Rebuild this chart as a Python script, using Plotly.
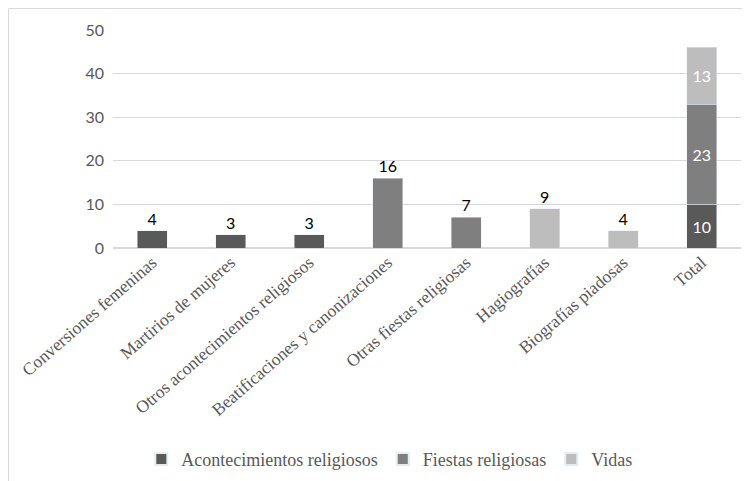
import plotly.graph_objects as go

categories = ["Conversiones femeninas", "Martirios de mujeres", "Otros acontecimientos religiosos",
              "Beatificaciones y canonizaciones", "Otras fiestas religiosas", "Hagiografías",
              "Biografías piadosas", "Total"]
series_names = ["Acontecimientos religiosos", "Fiestas religiosas", "Vidas"]
acontecimientos = [4, 3, 3, None, None, None, None, 10]
fiestas = [None, None, None, 16, 7, None, None, 23]
vidas = [None, None, None, None, None, 9, 4, 13]
y_ticks = [0, 10, 20, 30, 40, 50]

colors = ["#595959", "#7f7f7f", "#bdbdbd"]

fig = go.Figure()
for name, vals, col in zip(series_names, [acontecimientos, fiestas, vidas], colors):
    pos = ["inside" if c == "Total" else "outside" for c in categories]
    fig.add_trace(go.Bar(
        x=categories, y=vals, name=name, marker_color=col,
        text=[("" if v is None else str(v)) for v in vals],
        textposition=pos, insidetextanchor="middle",
        insidetextfont=dict(color="white", size=16, family="Lato"),
        outsidetextfont=dict(color="black", size=16, family="Lato"),
        cliponaxis=False,
    ))

fig.update_layout(
    barmode="stack", bargap=0.62,
    width=756, height=481,
    margin=dict(l=105, r=23, t=22, b=241, autoexpand=False),
    paper_bgcolor="white", plot_bgcolor="white",
    legend=dict(orientation="h", x=0.44, xanchor="center", yref="container", y=0.062, yanchor="middle",
                font=dict(family="Liberation Serif", size=18, color="#595959"),
                itemsizing="constant", traceorder="normal"),
)
fig.update_xaxes(tickangle=-41, tickfont=dict(family="Liberation Serif", size=17.5, color="#595959"),
                 showline=False, ticks="", automargin=False)
fig.update_yaxes(range=[0, 50], tickvals=y_ticks, showgrid=True, gridcolor="#d9d9d9", gridwidth=1,
                 zeroline=True, zerolinecolor="#d9d9d9", automargin=False,
                 tickfont=dict(family="Lato", size=16, color="#595959"), ticklabelstandoff=8)

# outer chart frame (top and left edges)
fig.add_shape(type="line", xref="paper", yref="paper", x0=-104/628, x1=1 + 1/628, y0=1 + 21.5/218, y1=1 + 21.5/218,
              line=dict(color="#d9d9d9", width=1))
fig.add_shape(type="line", xref="paper", yref="paper", x0=-104.5/628, x1=-104.5/628, y0=1 + 21.5/218, y1=-240/218,
              line=dict(color="#d9d9d9", width=1))

fig.write_html("out.html")
